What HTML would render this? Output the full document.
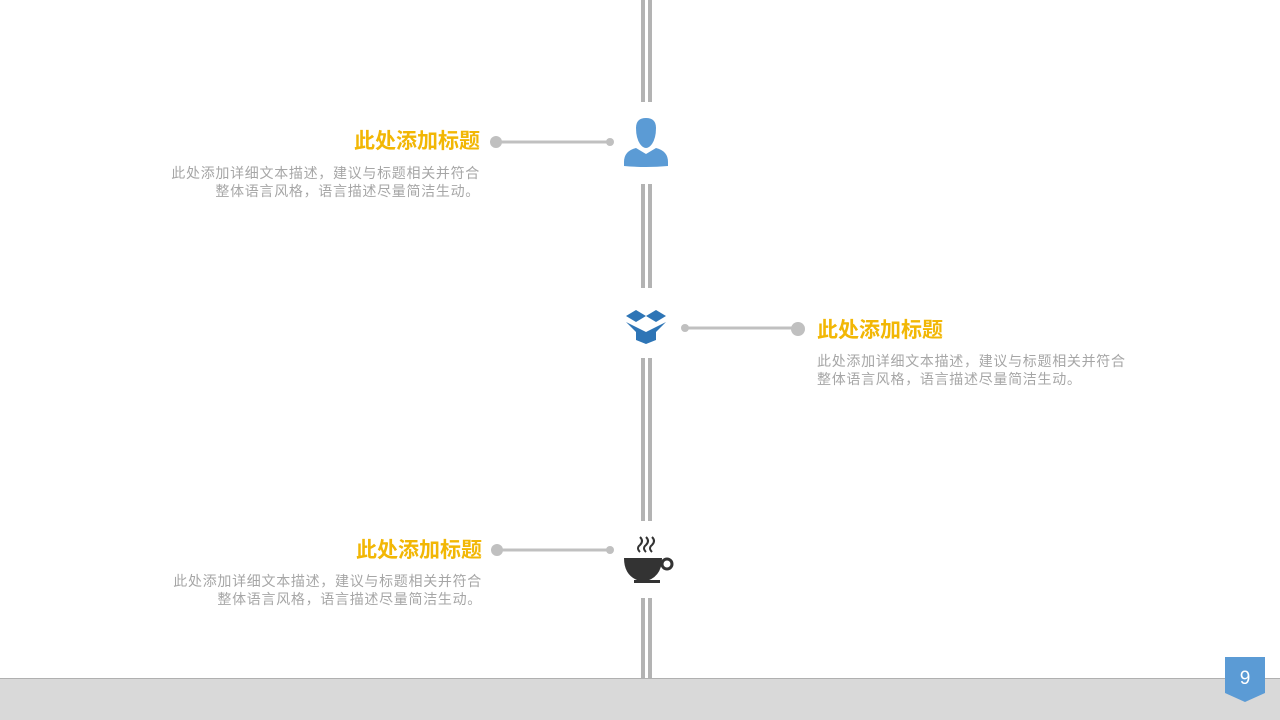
<!DOCTYPE html>
<html><head><meta charset="utf-8"><style>
body{margin:0;width:1280px;height:720px;background:#fff;position:relative;overflow:hidden;font-family:"Liberation Sans","Noto Sans CJK SC",sans-serif}
.t{position:absolute;font-size:21px;font-weight:bold;color:#f2b705;white-space:nowrap;line-height:26px}
.d{position:absolute;font-size:14px;color:#a6a6a6;line-height:18px;white-space:nowrap;letter-spacing:0.7px}
.r{text-align:right}
</style></head><body>
<svg width="1280" height="720" style="position:absolute;left:0;top:0">
<g fill="#b3b3b3">
<rect x="641" y="0" width="4" height="102"/><rect x="648" y="0" width="4" height="102"/>
<rect x="641" y="184" width="4" height="104"/><rect x="648" y="184" width="4" height="104"/>
<rect x="641" y="358" width="4" height="163"/><rect x="648" y="358" width="4" height="163"/>
<rect x="641" y="598" width="4" height="82"/><rect x="648" y="598" width="4" height="82"/>
</g>
<g stroke="#c0c0c0" stroke-width="3" fill="#c0c0c0">
<line x1="496" y1="142" x2="610" y2="142"/><circle cx="496" cy="142" r="6" stroke="none"/><circle cx="610" cy="142" r="4" stroke="none"/>
<line x1="685" y1="328" x2="798" y2="328"/><circle cx="798" cy="329" r="7" stroke="none"/><circle cx="685" cy="328" r="4" stroke="none"/>
<line x1="497" y1="550" x2="610" y2="550"/><circle cx="497" cy="550" r="6" stroke="none"/><circle cx="610" cy="550" r="4" stroke="none"/>
</g>
<g fill="#5b9bd5">
<path d="M636 128 q0-10 10-10 q10 0 10 10 q0 10-4 16 q-3 4-6 4 q-3 0-6-4 q-4-6-4-16z"/>
<path d="M624 162 q0-11 12-14 l10 6 l10-6 q12 3 12 14 v4 q-22 2-44 0z"/>
</g>
<g fill="#2e75b6">
<path d="M626 322 l10 10 v8 l10 4 v-12 z"/>
<path d="M666 322 l-10 10 v8 l-10 4 v-12 z"/>
<path d="M626 316 l10-6 l10 6 l-10 6z"/>
<path d="M666 316 l-10-6 l-10 6 l10 6z"/>
</g>
<g fill="#333" stroke="#333">
<path d="M624 558 h38 q0 20-19 24 q-19-4-19-24z" stroke="none"/>
<circle cx="667" cy="564" r="5" fill="none" stroke-width="3"/>
<rect x="634" y="580" width="26" height="3" stroke="none"/>
<path d="M640 552 q-4-4 0-7 q4-4 0-8 M646 552 q-4-4 0-7 q4-4 0-8 M652 552 q-4-4 0-7 q4-4 0-8" fill="none" stroke-width="2"/>
</g>
<rect x="0" y="678" width="1280" height="42" fill="#d9d9d9"/>
<rect x="0" y="678" width="1280" height="1" fill="#b0b0b0"/>
<path d="M1225 657 h40 v36 l-20 9 l-20-9z" fill="#5b9bd5"/>
<text x="1245" y="684" font-size="19" fill="#fff" text-anchor="middle" font-family="Liberation Sans,sans-serif">9</text>
</svg>
<div class="t r" style="right:800px;top:129px">此处添加标题</div>
<div class="d r" style="right:800px;top:164px">此处添加详细文本描述，建议与标题相关并符合<br>整体语言风格，语言描述尽量简洁生动。</div>
<div class="t" style="left:817px;top:318px">此处添加标题</div>
<div class="d" style="left:817px;top:352px">此处添加详细文本描述，建议与标题相关并符合<br>整体语言风格，语言描述尽量简洁生动。</div>
<div class="t r" style="right:798px;top:538px">此处添加标题</div>
<div class="d r" style="right:798px;top:572px">此处添加详细文本描述，建议与标题相关并符合<br>整体语言风格，语言描述尽量简洁生动。</div>
</body></html>
